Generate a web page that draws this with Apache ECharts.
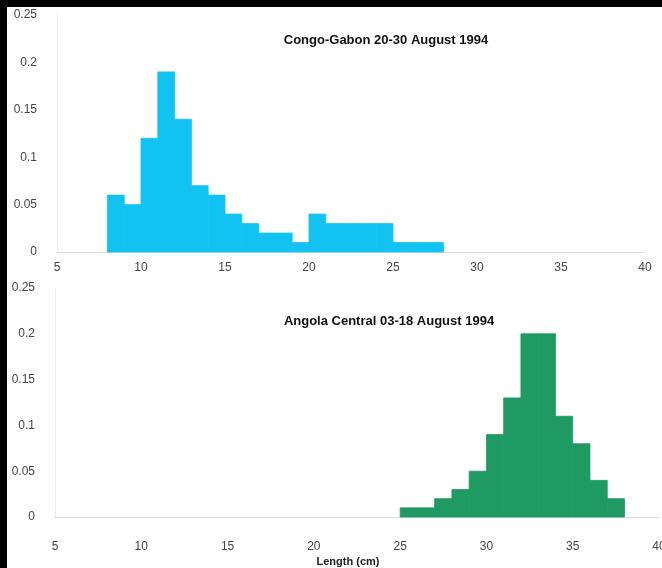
<!DOCTYPE html>
<html>
<head>
<meta charset="utf-8">
<script src="https://cdn.jsdelivr.net/npm/echarts@6/dist/echarts.min.js"></script>
<style>
  html, body { margin: 0; padding: 0; background: #fff; }
  #main { width: 662px; height: 568px; }
</style>
</head>
<body>
<div id="main"></div>
<script>
// length bins (cm), 1 cm wide, start of each bin
var congoBins = [8, 9, 10, 11, 12, 13, 14, 15, 16, 17, 18, 19, 20, 21, 22, 23, 24, 25, 26, 27];
var congoValues = [0.06, 0.05, 0.12, 0.19, 0.14, 0.07, 0.06, 0.04, 0.03, 0.02, 0.02, 0.01, 0.04, 0.03, 0.03, 0.03, 0.03, 0.01, 0.01, 0.01];

var angolaBins = [25, 26, 27, 28, 29, 30, 31, 32, 33, 34, 35, 36, 37];
var angolaValues = [0.01, 0.01, 0.02, 0.03, 0.05, 0.09, 0.13, 0.2, 0.2, 0.11, 0.08, 0.04, 0.02];

var xTicks = [5, 10, 15, 20, 25, 30, 35, 40];
var yTicks = [0, 0.05, 0.1, 0.15, 0.2, 0.25];

var titles = ["Congo-Gabon 20-30 August 1994", "Angola Central 03-18 August 1994"];
var xName = "Length (cm)";

var myChart = echarts.init(document.getElementById("main"));

var font = "Liberation Sans";

function histData(bins, values) {
  return bins.map(function (b, i) {
    return [b, b + 1, values[i]];
  });
}

// draw each bin as a rectangle from its start to its end
function renderBin(params, api) {
  var p0 = api.coord([api.value(0), 0]);
  var p1 = api.coord([api.value(1), api.value(2)]);
  var c = api.visual("color");
  return {
    type: "rect",
    shape: { x: p0[0], y: p1[1], width: p1[0] - p0[0], height: p0[1] - p1[1] },
    // stroke with the fill colour so neighbouring bins join without a seam
    style: { fill: c, stroke: c, lineWidth: 0.8 },
  };
}

function xAxisCfg(idx, margin, withName) {
  var cfg = {
    type: "value",
    gridIndex: idx,
    min: xTicks[0],
    max: xTicks[xTicks.length - 1],
    interval: 5,
    axisLine: { show: true, lineStyle: { color: "#dcdcdc", width: 1 } },
    axisTick: { show: false },
    splitLine: { show: false },
    axisLabel: { color: "#444", fontFamily: font, fontSize: 12, margin: margin },
  };
  if (withName) {
    cfg.name = xName;
    cfg.nameLocation = "middle";
    cfg.nameGap = 39;
    cfg.nameTextStyle = {
      color: "#222",
      fontFamily: font,
      fontSize: 11,
      fontWeight: "bold",
      padding: [0, 18, 0, 0],
    };
  }
  return cfg;
}

function yAxisCfg(idx) {
  return {
    type: "value",
    gridIndex: idx,
    min: 0,
    max: yTicks[yTicks.length - 1],
    interval: 0.05,
    axisLine: { show: true, lineStyle: { color: "#ececec", width: 1 } },
    axisTick: { show: false },
    splitLine: { show: false },
    axisLabel: { color: "#444", fontFamily: font, fontSize: 12, margin: 20 },
  };
}

var titleStyle = { fontFamily: font, fontSize: 13, fontWeight: "bold", color: "#111" };

var option = {
  backgroundColor: "#fff",
  animation: false,
  title: [
    { text: titles[0], left: 381, top: 29, textAlign: "center", textStyle: titleStyle },
    { text: titles[1], left: 384, top: 310, textAlign: "center", textStyle: titleStyle },
  ],
  grid: [
    { left: 57, right: 17, top: 15, height: 237, outerBoundsMode: "none" },
    { left: 55, right: 3, top: 288, height: 229, outerBoundsMode: "none" },
  ],
  xAxis: [xAxisCfg(0, 10, false), xAxisCfg(1, 24, true)],
  yAxis: [yAxisCfg(0), yAxisCfg(1)],
  series: [
    {
      type: "custom",
      xAxisIndex: 0,
      yAxisIndex: 0,
      itemStyle: { color: "#12c3f2" },
      renderItem: renderBin,
      encode: { x: [0, 1], y: 2 },
      data: histData(congoBins, congoValues),
    },
    {
      type: "custom",
      xAxisIndex: 1,
      yAxisIndex: 1,
      itemStyle: { color: "#1f9a62" },
      renderItem: renderBin,
      encode: { x: [0, 1], y: 2 },
      data: histData(angolaBins, angolaValues),
    },
  ],
  graphic: [
    // black strips along the top and left edges of the scan
    { type: "rect", left: 0, top: 0, shape: { width: 662, height: 7 }, style: { fill: "#000" }, z: 100 },
    { type: "rect", left: 0, top: 0, shape: { width: 7, height: 568 }, style: { fill: "#000" }, z: 100 },
  ],
};

myChart.setOption(option);
</script>
</body>
</html>
